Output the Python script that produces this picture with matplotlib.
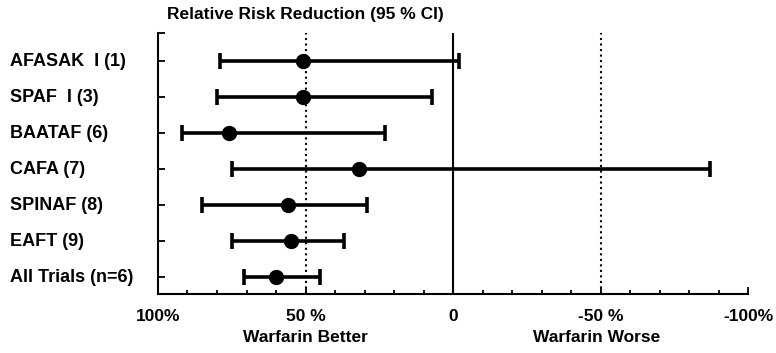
import matplotlib
matplotlib.use("Agg")
import matplotlib.pyplot as plt
from matplotlib.transforms import blended_transform_factory

# trial labels and relative risk reduction (%) with 95% CI
trials = ["AFASAK  I (1)", "SPAF  I (3)", "BAATAF (6)", "CAFA (7)",
          "SPINAF (8)", "EAFT (9)", "All Trials (n=6)"]
rrr = [51, 51, 76, 32, 56, 55, 60]
ci_low = [79, 80, 92, 75, 85, 75, 71]
ci_high = [-2, 7, 23, -87, 29, 37, 45]

xticks = [100, 50, 0, -50, -100]
xticklabels = ["100%", "50 %", "0", "-50 %", "-100%"]

plt.rcParams['font.family'] = ['Liberation Sans', 'DejaVu Sans']
FS = 12.5

fig = plt.figure(figsize=(7.76, 3.53), dpi=100)
ax = fig.add_axes([0.2036, 0.167, 0.7604, 0.7395])

ypos = list(range(len(trials)))
# errorbar wants positive distances: below = toward smaller numbers
xerr = [[m - hi for m, hi in zip(rrr, ci_high)],
        [lo - m for lo, m in zip(ci_low, rrr)]]
ax.errorbar(rrr, ypos, xerr=xerr, fmt='o', color='black', ms=10,
            elinewidth=2.6, capsize=6, capthick=2.6, zorder=3)

ax.axvline(0, color='black', lw=1.5, zorder=2)
ax.axvline(50, color='black', lw=1.5, ls=':', zorder=1)
ax.axvline(-50, color='black', lw=1.5, ls=':', zorder=1)

ax.set_xlim(100, -100)
ax.set_ylim(6.47, -0.78)

for s in ['top', 'right']:
    ax.spines[s].set_visible(False)
for s in ['left', 'bottom']:
    ax.spines[s].set_linewidth(1.5)

ax.set_xticks(xticks)
ax.set_xticklabels(xticklabels, fontsize=FS, fontweight='bold')
ax.set_xticks(range(-100, 101, 10), minor=True)
ax.tick_params(axis='x', which='major', direction='in', length=5, width=1.3, pad=11)
ax.tick_params(axis='x', which='minor', direction='in', length=3, width=1.3)

ax.set_yticks(ypos)
ax.set_yticklabels([])
ax.set_yticks([-0.78], minor=True)
ax.tick_params(axis='y', which='both', direction='in', length=5, width=1.3)

tr = blended_transform_factory(fig.transFigure, ax.transData)
for y, name in zip(ypos, trials):
    ax.text(10 / 776, y, name, transform=tr, ha='left', va='center',
            fontsize=13, fontweight='bold')

fig.text(305 / 776, 1 - 15 / 353, "Relative Risk Reduction (95 % CI)",
         ha='center', va='center', fontsize=FS, fontweight='bold')
fig.text(305 / 776, 1 - 338 / 353, "Warfarin Better",
         ha='center', va='center', fontsize=FS, fontweight='bold')
fig.text(597 / 776, 1 - 338 / 353, "Warfarin Worse",
         ha='center', va='center', fontsize=FS, fontweight='bold')

fig.savefig("out.png", dpi=100)
